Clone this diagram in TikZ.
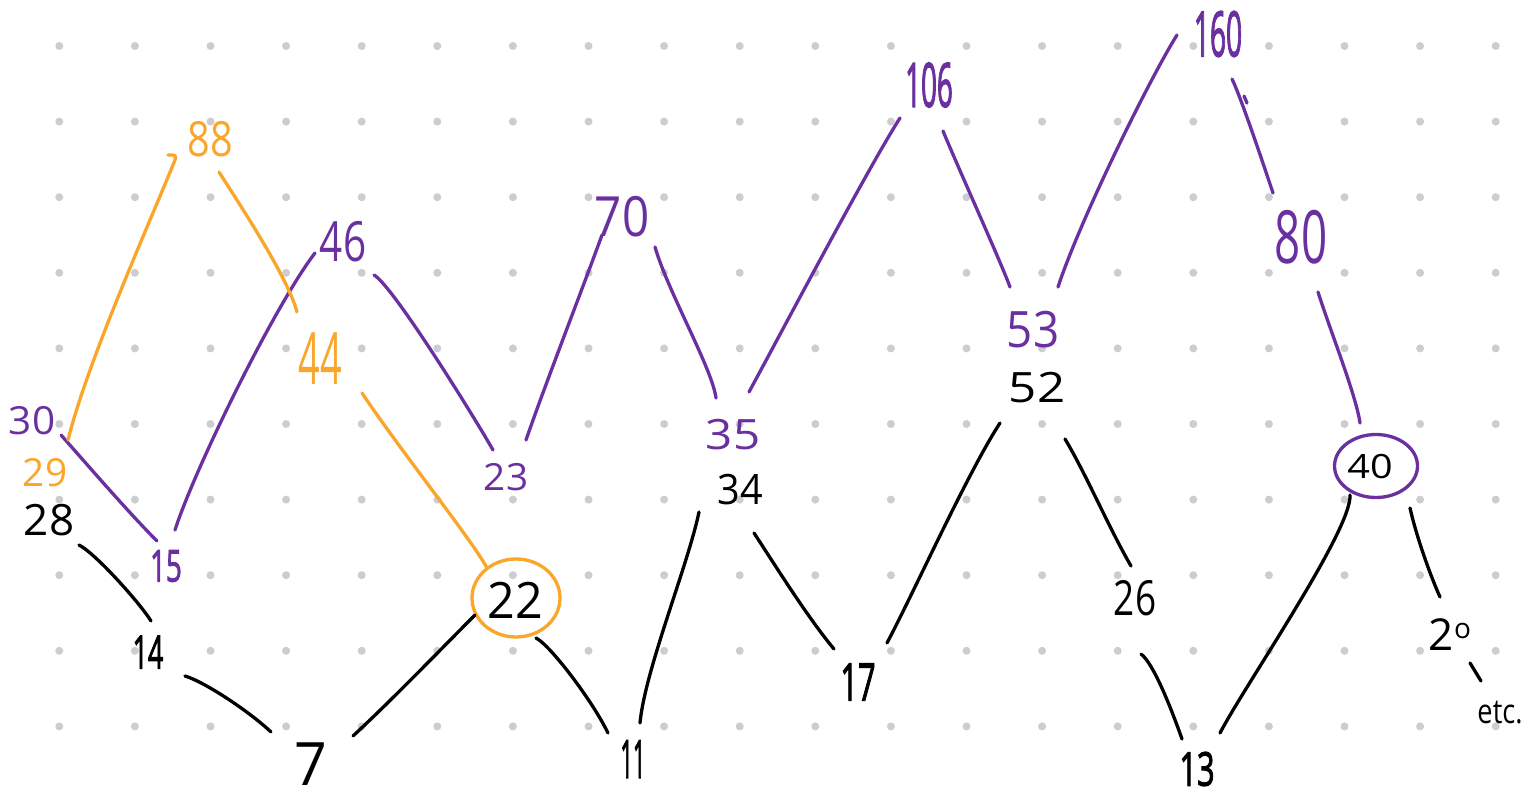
\documentclass[tikz,border=0pt]{standalone}
\usepackage{fontspec}
\usetikzlibrary{calc,shapes.geometric}
\newfontfamily\handfnt{Open Sans}
\newfontfamily\handfntb[FakeBold=2.5]{Open Sans}
\definecolor{hpurple}{RGB}{106,48,160}
\definecolor{horange}{RGB}{250,166,42}
\definecolor{dotgray}{RGB}{204,204,209}
\begin{document}
\begin{tikzpicture}[x=1pt,y=-1pt,
  num/.style={font=\handfnt\fontsize{44}{44}\selectfont, inner sep=0pt, outer sep=0pt, text=black},
  thin/.style={font=\handfntb\fontsize{44}{44}\selectfont},
  pnum/.style={num, text=hpurple},
  onum/.style={num, text=horange},
  ink/.style={line width=3.3pt, line cap=round, line join=round},
  bl/.style={ink, draw=black},
  pl/.style={ink, draw=hpurple},
  ol/.style={ink, draw=horange},
  ring/.style={ellipse, ink, inner sep=0pt, outer sep=0pt}
]
\useasboundingbox (0,0) rectangle (1529,797);
\fill[white] (0,0) rectangle (1529,797);
\foreach \i in {0,...,19}{\foreach \j in {0,...,9}{\fill[dotgray] (59.3+75.6*\i,46+75.6*\j) circle (4pt);}}

% circles
\node[ring, draw=horange, minimum width=88pt, minimum height=78pt] (c22) at (516,598) {};
\node[ring, draw=hpurple, minimum width=83pt, minimum height=63pt] (c40) at (1376,466) {};

% black numbers
\node[num, xscale=1.0, yscale=0.98] (n28) at (49,520) {28};
\node[num, thin, xscale=0.61, yscale=1.04] (n14) at (148,652) {14};
\node[num, xscale=1.3, yscale=1.36] (n7) at (311,764) {7};
\node[num, xscale=1.1, yscale=1.14] (n22) at (515,600) {22};
\node[num, thin, xscale=0.5, yscale=1.2] (n11) at (633,759) {11};
\node[num, xscale=0.9, yscale=0.95] (n34) at (740,490) {34};
\node[num, thin, xscale=0.7, yscale=1.17] (n17) at (858,682) {17};
\node[num, xscale=1.12, yscale=0.95] (n52) at (1037,388) {52};
\node[num, xscale=0.84, yscale=1.1] (n26) at (1135,598) {26};
\node[num, thin, xscale=0.7, yscale=1.06] (n13) at (1197,769) {13};
\node[num, xscale=0.9, yscale=0.76] (n40) at (1370,467) {40};
\node[num] (n20) at (1450,635) {2\raisebox{12pt}{\fontsize{28}{28}\selectfont o}};
\node[num, font=\handfnt\fontsize{34}{34}\selectfont, xscale=0.8] (etc) at (1500,713) {etc.};

% purple numbers
\node[pnum, xscale=0.92, yscale=0.88] (p30) at (32,421) {30};
\node[pnum, thin, xscale=0.63, yscale=1.0] (p15) at (166,566) {15};
\node[pnum, xscale=0.92, yscale=1.26] (p46) at (343,242) {46};
\node[pnum, xscale=0.88, yscale=0.85] (p23) at (506,477) {23};
\node[pnum, xscale=1.08, yscale=1.26] (p70) at (622,217) {70};
\node[pnum, xscale=1.08, yscale=0.95] (p35) at (733,435) {35};
\node[pnum, thin, xscale=0.63, yscale=1.39] (p106) at (929,85) {106};
\node[pnum, xscale=1.04, yscale=1.14] (p53) at (1033,330) {53};
\node[pnum, thin, xscale=0.64, yscale=1.42] (p160) at (1218,34) {160};
\node[pnum, xscale=1.04, yscale=1.67] (p80) at (1301,237) {80};

% orange numbers
\node[onum, xscale=0.9, yscale=1.1] (o88) at (210,139) {88};
\node[onum, xscale=0.88, yscale=0.88] (o29) at (45,473) {29};
\node[onum, xscale=0.86, yscale=1.64] (o44) at (320,359) {44};

% black connectors
\draw[bl] ($(n28)+(30,25)$) .. controls (95,553) and (140,603) .. ($(n14)+(3,-31)$);
\draw[bl] ($(n14)+(37,24)$) .. controls (205,682) and (250,712) .. ($(n7)+(-40,-32)$);
\draw[bl] ($(n7)+(42,-28)$) .. controls (395,697) and (440,650) .. ($(c22)+(-41,17)$);
\draw[bl] ($(c22)+(20,40)$) .. controls (550,645) and (592,700) .. ($(n11)+(-25,-26)$);
\draw[bl] ($(n11)+(7,-36)$) .. controls (645,670) and (688,565) .. ($(n34)+(-41,22)$);
\draw[bl] ($(n34)+(14,43)$) .. controls (775,565) and (808,618) .. ($(n17)+(-24,-33)$);
\draw[bl] ($(n17)+(29,-39)$) .. controls (915,590) and (968,472) .. ($(n52)+(-37,35)$);
\draw[bl] ($(n52)+(28,51)$) .. controls (1085,472) and (1110,530) .. ($(n26)+(-4,-32)$);
\draw[bl] ($(n26)+(6,56)$) .. controls (1153,663) and (1170,705) .. ($(n13)+(-15,-30)$);
\draw[bl] ($(n13)+(23,-36)$) .. controls (1245,685) and (1352,530) .. ($(c40)+(-26,29)$);
\draw[bl] ($(c40)+(34,42)$) .. controls (1416,535) and (1430,575) .. ($(n20)+(-10,-38)$);
\draw[bl] ($(n20)+(20,28)$) -- ($(etc)+(-19,-32)$);

% purple connectors
\draw[pl] ($(p30)+(29,14)$) .. controls (85,462) and (128,512) .. ($(p15)+(-9,-25)$);
\draw[pl] ($(p15)+(9,-36)$) .. controls (195,468) and (275,305) .. ($(p46)+(-28,11)$);
\draw[pl] ($(p46)+(31,33)$) .. controls (392,285) and (470,410) .. ($(p23)+(-13,-27)$);
\draw[pl] ($(p23)+(20,-37)$) .. controls (545,385) and (585,282) .. ($(p70)+(-20,18)$);
\draw[pl] ($(p70)+(33,30)$) .. controls (668,292) and (712,368) .. ($(p35)+(-17,-37)$);
\draw[pl] ($(p35)+(16,-43)$) .. controls (780,335) and (868,168) .. ($(p106)+(-29,33)$);
\draw[pl] ($(p106)+(14,46)$) .. controls (960,172) and (1000,260) .. ($(p53)+(-23,-43)$);
\draw[pl] ($(p53)+(25,-43)$) .. controls (1080,220) and (1150,78) .. ($(p160)+(-41,1)$);
\draw[pl] ($(p160)+(14,45)$) .. controls (1240,95) and (1262,160) .. ($(p80)+(-28,-44)$);
\draw[pl] ($(p160)+(26,62)$) -- ($(p160)+(29,69)$);
\draw[pl] ($(p80)+(17,55)$) .. controls (1330,330) and (1356,395) .. ($(c40)+(-16,-43)$);

% orange connectors
\draw[ol] ($(o29)+(23,-33)$) .. controls (88,360) and (150,222) .. ($(o88)+(-35,21)$) .. controls ($(o88)+(-34,16)$) .. ($(o88)+(-42,16)$);
\draw[ol] ($(o88)+(9,33)$) .. controls (242,208) and (288,278) .. ($(o44)+(-23,-47)$);
\draw[ol] ($(o44)+(42,34)$) .. controls (400,450) and (472,540) .. ($(c22)+(-29,-30)$);
\end{tikzpicture}
\end{document}
